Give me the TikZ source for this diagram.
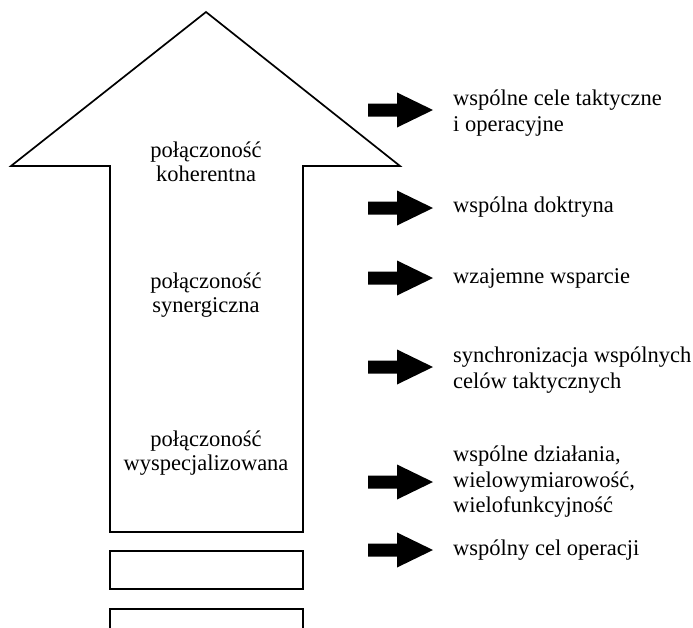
\documentclass[tikz,border=0pt]{standalone}
\usepackage{fontspec}
\setmainfont{Liberation Serif}
\begin{document}
\begin{tikzpicture}[x=1pt,y=-1pt,
  outline/.style={draw=black,line width=1.7pt,line join=miter},
  lvl/.style={align=center,inner sep=0pt,font=\fontsize{22.5}{24.5}\selectfont},
  desc/.style={anchor=west,align=left,inner sep=0pt,font=\fontsize{22.5}{25.5}\selectfont},
  blk/.pic={\fill[black] (-32.5,-6.5) -- (-3.5,-6.5) -- (-3.5,-17.5) -- (32.5,0)
                 -- (-3.5,17.5) -- (-3.5,6.5) -- (-32.5,6.5) -- cycle;}]
\useasboundingbox (0,0) rectangle (693,627);
\clip (0,0) rectangle (693,627);

% large upward arrow and the stacked blocks beneath it
\draw[outline] (206,12) -- (400,166) -- (303,166) -- (303,532)
  -- (110,532) -- (110,166) -- (11,166) -- cycle;
\draw[outline] (110,551) rectangle (303,589);
\draw[outline] (110,609) rectangle (303,645);

% levels of connectivity
\node[lvl] (koh) at (206,162) {połączoność\\koherentna};
\node[lvl] (syn) at (206,295) {połączoność\\synergiczna};
\node[lvl] (wys) at (206,453) {połączoność\\wyspecjalizowana};

% black arrows with their descriptions
\pic at (400.5,110) {blk};
\node[desc] (d1) at (453,113) {wspólne cele taktyczne\\i operacyjne};
\pic at (400.5,208) {blk};
\node[desc] (d2) at (453,207) {wspólna doktryna};
\pic at (400.5,278) {blk};
\node[desc] (d3) at (453,278) {wzajemne wsparcie};
\pic at (400.5,367) {blk};
\node[desc] (d4) at (453,370) {synchronizacja wspólnych\\celów taktycznych};
\pic at (400.5,482) {blk};
\node[desc] (d5) at (453,482) {wspólne działania,\\wielowymiarowość,\\wielofunkcyjność};
\pic at (400.5,550) {blk};
\node[desc] (d6) at (453,550) {wspólny cel operacji};
\end{tikzpicture}
\end{document}
